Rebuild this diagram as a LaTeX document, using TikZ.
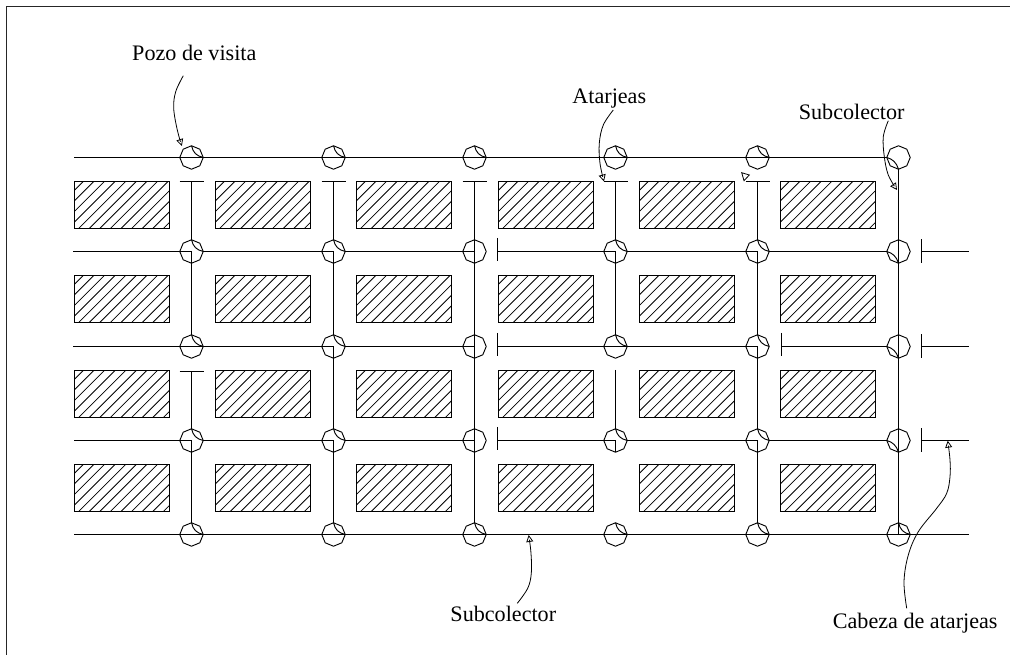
\documentclass[tikz,border=0pt]{standalone}
\usepackage{fontspec}
\setmainfont{Liberation Serif}
\usetikzlibrary{shapes.geometric,arrows.meta,calc}
\tikzset{
  line/.style={draw=black,line width=0.75pt},
  well/.style={regular polygon,regular polygon sides=8,shape border rotate=22.5,draw=black,line width=0.7pt,minimum size=17.6pt,inner sep=0pt,outer sep=0pt},
  block/.style={rectangle,draw=black,line width=0.75pt,anchor=north west,minimum width=70.9pt,minimum height=35.5pt,inner sep=0pt,outer sep=0pt,
    path picture={\foreach \k in {0,...,13}{\draw[black,line width=0.6pt] ($(path picture bounding box.north west)+({8.7+10.6*\k},0)$) -- +(-47.3,47.3);}}},
  label/.style={font=\fontsize{16.6}{20}\selectfont,anchor=base,inner sep=0pt,text=black},
  leader/.style={draw=black,line width=0.6pt,-{Triangle[open,length=5.2pt,width=5.2pt,line width=0.6pt]}}
}
\newcommand{\wellthru}[1]{\draw[line] (#1.west) -- (#1.east);}
\newcommand{\wellcorner}[1]{\draw[line] (#1.west) -- (#1.center) -- (#1.south);}
\newcommand{\wellend}[1]{\draw[line] (#1.west) -- (#1.center); \draw[line] (#1.north) -- (#1.south);}
\newcommand{\wellarc}[1]{\draw[line width=0.7pt] (#1.north) .. controls ($(#1.center)+(1.5,-5)$) and ($(#1.center)+(5,-1.5)$) .. (#1.east);}
\newcommand{\wellarcb}[1]{\draw[line width=0.7pt] (#1.west) .. controls ($(#1.center)+(-6,1.5)$) and ($(#1.center)+(-2,5)$) .. (#1.south);}
\begin{document}
\begin{tikzpicture}[x=0.75pt,y=-0.75pt]
\useasboundingbox (0,0) rectangle (1010,655);
% frame
\coordinate (fa) at (6.5,655);
\coordinate (fb) at (6.5,6.5);
\coordinate (fc) at (1010,6.5);
\draw[black!85,line width=0.9pt] (fa) -- (fb) -- (fc);
% blocks
\foreach \r/\y in {1/181.5,2/275.5,3/370.5,4/464.5}
  \foreach \c/\x in {1/74.5,2/215.5,3/356.5,4/498.5,5/639.5,6/780.5}
    \node[block] (b\r\c) at (\x,\y) {};
% wells
\foreach \r/\y in {1/157.5,2/251.5,3/346.5,4/440.5,5/534.5}
  \foreach \c/\x in {1/191.5,2/333.5,3/474.5,4/615.5,5/757.5,6/898.5}
    \node[well] (c\r\c) at (\x,\y) {};
% well interiors
\foreach \n in {c11,c12,c13,c14,c15,c31,c34,c51,c52,c53,c54,c55,c56} {\wellthru{\n}}
\foreach \n in {c21,c22,c24,c25,c32,c35,c41,c42,c44,c45} {\wellcorner{\n}}
\foreach \n in {c23,c33,c43} {\wellend{\n}}
\foreach \n in {c26,c36,c46} {\draw[line] (\n.north) -- (\n.south);}
\foreach \n in {c11,c12,c13,c14,c15,c21,c22,c24,c25,c31,c32,c34,c35,c41,c42,c44,c45,c51,c52,c53,c54,c55,c56} {\wellarc{\n}}
\foreach \n in {c16,c26,c36,c46} {\wellarcb{\n}}
\draw[line] (c56.north) -- (c56.center);
% free ends of the horizontal lines
\foreach \r/\y/\x in {1/157.5/74,2/251.5/73,3/346.5/73,4/440.5/74,5/534.5/74} \coordinate (s\r) at (\x,\y);
\coordinate (e2) at (969,251.5);
\coordinate (e3) at (969,346.5);
\coordinate (e4) at (969,440.5);
\coordinate (e5) at (969,534.5);
% heads on horizontal lines
\coordinate (h24) at (497.5,251.5);
\coordinate (h34) at (497.5,346.5);
\coordinate (h44) at (497.5,440.5);
\coordinate (h36) at (781.5,346.5);
\coordinate (h27) at (921.5,251.5);
\coordinate (h37) at (921.5,346.5);
\coordinate (h47) at (921.5,440.5);
\foreach \n in {h24,h34,h44,h36} {\draw[line] ($(\n)+(0,-13.5)$) -- ($(\n)+(0,10)$);}
\foreach \n in {h27,h37,h47} {\draw[line] ($(\n)+(0,-12)$) -- ($(\n)+(0,11.5)$);}
% horizontal lines
\draw[line] (s1) -- (c11.west) (c11.east) -- (c12.west) (c12.east) -- (c13.west) (c13.east) -- (c14.west) (c14.east) -- (c15.west) (c15.east) -- (c16.west);
\draw[line] (s2) -- (c21.west) (c21.east) -- (c22.west) (c22.east) -- (c23.west) (h24) -- (c24.west) (c24.east) -- (c25.west) (c25.east) -- (c26.west) (h27) -- (e2);
\draw[line] (s3) -- (c31.west) (c31.east) -- (c32.west) (c32.east) -- (c33.west) (h34) -- (c34.west) (c34.east) -- (c35.west) (h36) -- (c36.west) (h37) -- (e3);
\draw[line] (s4) -- (c41.west) (c41.east) -- (c42.west) (c42.east) -- (c43.west) (h44) -- (c44.west) (c44.east) -- (c45.west) (c45.east) -- (c46.west) (h47) -- (e4);
\draw[line] (s5) -- (c51.west) (c51.east) -- (c52.west) (c52.east) -- (c53.west) (c53.east) -- (c54.west) (c54.east) -- (c55.west) (c55.east) -- (c56.west) (c56.east) -- (e5);
% heads on vertical lines
\foreach \n/\x/\y in {t1/191.5/181.5,t2/333.5/181.5,t3/474.5/181.5,t4/615.5/181.5,t5/757.5/181.5,t6/191.5/371.5}{
  \coordinate (\n) at (\x,\y);
  \draw[line] ($(\n)+(-12,0)$) -- ($(\n)+(12,0)$);
}
\coordinate (t7) at (615.5,370);
% vertical lines
\draw[line] (t1) -- (c21.north) (c21.south) -- (c31.north) (t6) -- (c41.north) (c41.south) -- (c51.north);
\draw[line] (t2) -- (c22.north) (c22.south) -- (c32.north) (c32.south) -- (c42.north) (c42.south) -- (c52.north);
\draw[line] (t3) -- (c23.north) (c23.south) -- (c33.north) (c33.south) -- (c43.north) (c43.south) -- (c53.north);
\draw[line] (t4) -- (c24.north) (c24.south) -- (c34.north) (t7) -- (c44.north);
\draw[line] (t5) -- (c25.north) (c25.south) -- (c35.north) (c35.south) -- (c45.north) (c45.south) -- (c55.north);
\draw[line] (c16.south) -- (c26.north) (c26.south) -- (c36.north) (c36.south) -- (c46.north) (c46.south) -- (c56.north);
% labels
\node[label] (lpozo) at (194.3,60.7) {Pozo de visita};
\node[label] (latar) at (609.3,104) {Atarjeas};
\node[label] (lsub) at (851.7,120) {Subcolector};
\node[label] (lsubb) at (503.3,621.7) {Subcolector};
\node[label] (lcab) at (915.2,628.3) {Cabeza de atarjeas};
% leaders
\coordinate (a1) at (183.3,75.7);
\coordinate (a2) at (613.3,110);
\coordinate (a3) at (888.3,120.7);
\coordinate (a4) at (517.3,603.3);
\coordinate (a5) at (906.7,608.3);
\coordinate (z1) at (181.9,146);
\coordinate (z2) at (604,181.5);
\coordinate (z3) at (897,190);
\coordinate (z4) at (528.7,535);
\coordinate (z5) at (947.7,440.7);
\draw[leader] plot[smooth,tension=0.6] coordinates {(a1) (175.7,91.7) (173.7,108.3) (177.3,130) (z1)};
\draw[leader] plot[smooth,tension=0.6] coordinates {(a2) (603.3,125) (599.3,143.3) (600,163.3) (z2)};
\draw[leader] plot[smooth,tension=0.6] coordinates {(a3) (883.3,136.7) (884.3,156.7) (888.3,175) (z3)};
\draw[leader] plot[smooth,tension=0.6] coordinates {(a4) (527.7,588.3) (531.3,573.3) (531,553.3) (z4)};
\draw[leader] plot[smooth,tension=0.6] coordinates {(a5) (904,581.7) (908.3,555) (918.3,531.7) (936.7,508.3) (946.7,493.3) (950,476.7) (950,460) (z5)};
% stray arrowhead
\draw[line width=0.6pt] (741.7,172.7) -- (749.3,175) -- (744,180.7) -- cycle;
\end{tikzpicture}
\end{document}
